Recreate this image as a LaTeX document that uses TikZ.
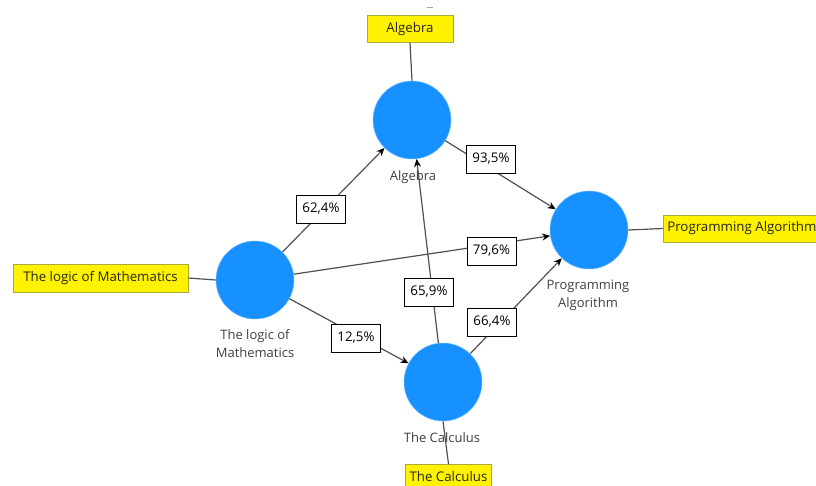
\documentclass[tikz,border=0pt]{standalone}
\usepackage{fontspec}
\setmainfont{Open Sans}
\usetikzlibrary{arrows.meta}
\definecolor{nodeblue}{RGB}{22,145,255}
\definecolor{yelborder}{RGB}{170,170,60}
\definecolor{linegray}{RGB}{80,80,80}
\definecolor{labgray}{RGB}{64,64,64}
\begin{document}
\begin{tikzpicture}[x=1pt,y=-1pt,
  lv/.style={circle, fill=nodeblue, draw=nodeblue!60!white, line width=0.5pt, minimum size=78pt, inner sep=0pt},
  ybox/.style={fill=yellow, draw=yelborder, line width=0.6pt, minimum height=27pt, inner sep=4pt,
    text height=10pt, text depth=3pt, font=\fontsize{13.3}{15}\selectfont, text=black!85},
  pbox/.style={fill=white, draw=black, line width=0.8pt, minimum height=28pt, minimum width=49pt, inner sep=2pt,
    text height=10pt, text depth=3pt, font=\fontsize{13.3}{15}\selectfont, text=black},
  lab/.style={text=labgray, align=center, font=\fontsize{13}{18}\selectfont},
  conn/.style={draw=linegray, line width=1.2pt},
  arr/.style={conn, -{Stealth[length=8pt,width=7pt,black]}}
]
\useasboundingbox (0,0) rectangle (816,486);
\clip (0,0) rectangle (816,486);

% tiny mark at top
\draw[gray!70, line width=0.8pt] (427,7) -- (433,7);

% latent variables
\node[lv] (alg) at (412,120) {};
\node[lv] (log) at (255,280) {};
\node[lv] (prog) at (589,230) {};
\node[lv] (calc) at (443,382) {};

% indicator boxes
\node[ybox, minimum width=86pt] (algbox) at (410,29) {Algebra};
\node[ybox, minimum width=175pt, minimum height=28pt] (logbox) at (100.5,278) {The logic of Mathematics};
\node[ybox, anchor=west] (progbox) at (663,228.5) {Programming Algorithm};
\node[ybox, minimum width=85pt, anchor=north] (calcbox) at (448.5,464) {The Calculus};

% indicator links
\draw[conn] (algbox.south) -- (alg.north);
\draw[conn] (logbox.east) -- (log.west);
\draw[conn] (prog.east) -- (progbox.west);
\draw[conn] (calc.south) -- (calcbox.north);

% structural paths
\draw[arr] (log) -- (alg);
\draw[arr] (alg) -- (prog);
\draw[arr] (log) -- (prog);
\draw[arr] (log) -- (calc);
\draw[arr] (calc) -- (alg);
\draw[arr] (calc) -- (prog);

% path coefficients
\node[pbox] (c1) at (321,209) {62,4\%};
\node[pbox] (c2) at (491,159.5) {93,5\%};
\node[pbox] (c3) at (491.5,251) {79,6\%};
\node[pbox] (c4) at (356,338) {12,5\%};
\node[pbox] (c5) at (429,292) {65,9\%};
\node[pbox] (c6) at (492,322) {66,4\%};

% variable names
\node[lab] (algl) at (413,177) {Algebra};
\node[lab] (logl) at (255,344) {The logic of\\Mathematics};
\node[lab] (progl) at (588,295) {Programming\\Algorithm};
\node[lab] (calcl) at (442,438) {The Calculus};
\end{tikzpicture}
\end{document}
